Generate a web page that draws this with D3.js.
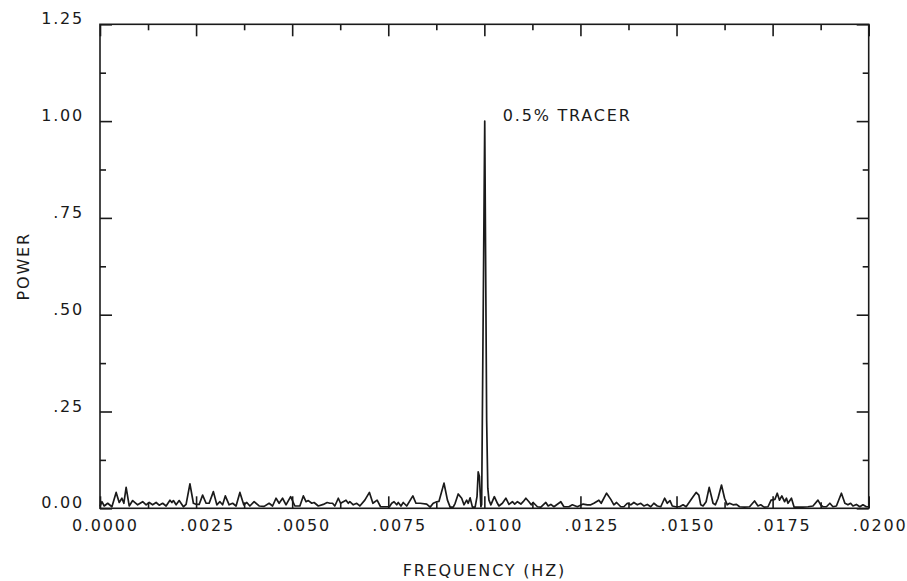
<!DOCTYPE html>
<html>
<head>
<meta charset="utf-8">
<script src="https://cdn.jsdelivr.net/npm/d3@7/dist/d3.min.js"></script>
<style>
  html, body { margin: 0; padding: 0; background: #fff; }
  svg { display: block; }
  text { font-family: "DejaVu Sans", sans-serif; font-size: 16px; fill: #1a1a1a; letter-spacing: 1.8px; }
</style>
</head>
<body>
<svg id="chart" width="907" height="581"></svg>
<script>
// ---- data ----
const freq = [
  0.00000,0.00005,0.00011,0.00020,0.00031,0.00042,0.00050,0.00057,0.00062,0.00068,
  0.00076,0.00085,0.00098,0.00111,0.00120,0.00128,0.00137,0.00146,0.00154,0.00163,
  0.00172,0.00182,0.00187,0.00191,0.00198,0.00206,0.00217,0.00224,0.00234,0.00243,
  0.00251,0.00258,0.00267,0.00276,0.00284,0.00295,0.00304,0.00312,0.00319,0.00326,
  0.00336,0.00345,0.00354,0.00364,0.00374,0.00382,0.00390,0.00401,0.00414,0.00427,
  0.00440,0.00449,0.00458,0.00466,0.00475,0.00484,0.00496,0.00507,0.00520,0.00529,
  0.00536,0.00542,0.00551,0.00557,0.00568,0.00581,0.00591,0.00598,0.00605,0.00611,
  0.00620,0.00626,0.00633,0.00640,0.00646,0.00650,0.00659,0.00668,0.00676,0.00689,
  0.00701,0.00710,0.00721,0.00730,0.00741,0.00753,0.00759,0.00765,0.00772,0.00776,
  0.00783,0.00789,0.00798,0.00814,0.00822,0.00833,0.00850,0.00859,0.00867,0.00876,
  0.00882,0.00895,0.00904,0.00911,0.00919,0.00924,0.00932,0.00941,0.00947,0.00954,
  0.00958,0.00963,0.00969,0.00976,0.00981,0.00984,0.00987,0.00991,0.00993,0.01001,
  0.01006,0.01009,0.01012,0.01017,0.01026,0.01034,0.01038,0.01047,0.01056,0.01064,
  0.01073,0.01079,0.01086,0.01095,0.01101,0.01108,0.01116,0.01122,0.01127,0.01138,
  0.01147,0.01160,0.01166,0.01173,0.01181,0.01199,0.01207,0.01220,0.01229,0.01242,
  0.01257,0.01268,0.01277,0.01285,0.01298,0.01304,0.01318,0.01329,0.01337,0.01344,
  0.01355,0.01363,0.01372,0.01381,0.01389,0.01398,0.01407,0.01415,0.01424,0.01433,
  0.01441,0.01450,0.01459,0.01469,0.01476,0.01483,0.01489,0.01498,0.01508,0.01517,
  0.01525,0.01534,0.01543,0.01551,0.01558,0.01563,0.01569,0.01577,0.01585,0.01591,
  0.01595,0.01601,0.01608,0.01617,0.01625,0.01632,0.01638,0.01647,0.01656,0.01664,
  0.01677,0.01690,0.01703,0.01712,0.01719,0.01728,0.01738,0.01746,0.01756,0.01762,
  0.01768,0.01774,0.01781,0.01786,0.01790,0.01799,0.01806,0.01816,0.01829,0.01842,
  0.01855,0.01868,0.01875,0.01881,0.01890,0.01899,0.01907,0.01916,0.01929,0.01938,
  0.01946,0.01953,0.01959,0.01968,0.01977,0.01985,0.01994,0.02000
];
const power = [
  0.005,0.017,0.006,0.013,0.004,0.041,0.015,0.026,0.013,0.054,
  0.006,0.020,0.009,0.017,0.009,0.015,0.009,0.015,0.008,0.013,
  0.006,0.021,0.015,0.020,0.009,0.020,0.004,0.010,0.063,0.013,
  0.010,0.010,0.034,0.013,0.013,0.043,0.009,0.017,0.009,0.032,
  0.009,0.013,0.006,0.041,0.009,0.015,0.006,0.017,0.006,0.005,
  0.013,0.006,0.026,0.013,0.026,0.009,0.030,0.006,0.006,0.032,
  0.017,0.020,0.013,0.015,0.006,0.010,0.015,0.013,0.013,0.006,
  0.026,0.013,0.017,0.021,0.013,0.017,0.009,0.013,0.006,0.021,
  0.041,0.013,0.021,0.004,0.004,0.004,0.013,0.017,0.009,0.015,
  0.006,0.015,0.006,0.032,0.013,0.013,0.011,0.003,0.013,0.017,
  0.018,0.065,0.021,0.003,0.003,0.013,0.037,0.026,0.009,0.021,
  0.013,0.027,0.003,0.003,0.031,0.094,0.083,0.004,0.010,1.000,
  0.227,0.052,0.021,0.009,0.030,0.013,0.006,0.013,0.026,0.010,
  0.017,0.011,0.017,0.011,0.017,0.026,0.017,0.009,0.015,0.004,
  0.003,0.015,0.006,0.010,0.004,0.017,0.004,0.004,0.009,0.004,
  0.011,0.009,0.009,0.013,0.021,0.013,0.039,0.023,0.009,0.015,
  0.004,0.004,0.013,0.009,0.015,0.009,0.013,0.006,0.010,0.004,
  0.013,0.006,0.004,0.026,0.013,0.020,0.006,0.004,0.004,0.009,
  0.004,0.017,0.030,0.041,0.034,0.009,0.006,0.017,0.054,0.030,
  0.013,0.009,0.026,0.060,0.026,0.009,0.013,0.009,0.010,0.004,
  0.003,0.004,0.019,0.006,0.009,0.003,0.004,0.021,0.023,0.039,
  0.021,0.032,0.017,0.026,0.013,0.026,0.003,0.003,0.003,0.004,
  0.006,0.021,0.009,0.004,0.004,0.013,0.004,0.006,0.039,0.013,
  0.009,0.013,0.006,0.010,0.004,0.009,0.004,0.004
];
const xMajorTicks = [0, 0.0025, 0.005, 0.0075, 0.01, 0.0125, 0.015, 0.0175, 0.02];
const xTickLabels = ["0.0000", ".0025", ".0050", ".0075", ".0100", ".0125", ".0150", ".0175", ".0200"];
const xMinorTicks = [0.00125, 0.00375, 0.00625, 0.00875, 0.01125, 0.01375, 0.01625, 0.01875];
const yMajorTicks = [0, 0.25, 0.5, 0.75, 1.0, 1.25];
const yTickLabels = ["0.00", ".25", ".50", ".75", "1.00", "1.25"];
const yMinorTicks = [0.125, 0.375, 0.625, 0.875, 1.125];
const xTitle = "FREQUENCY (HZ)";
const yTitle = "POWER";
const annotation = { text: "0.5% TRACER", f: 0.01048, p: 1.0 };

// ---- layout ----
const L = 100, R = 868.7, T = 24.3, B = 508.3;
const ink = "#1a1a1a";
const svg = d3.select("#chart");
const x = d3.scaleLinear().domain([0, 0.02]).range([L, R]);
const y = d3.scaleLinear().domain([0, 1.25]).range([B, T]);

function ticks(axisGen, tr, vals, size) {
  const g = svg.append("g").attr("transform", tr)
    .call(axisGen.tickValues(vals).tickSize(size).tickFormat(""));
  g.select(".domain").remove();
  g.selectAll(".tick line").attr("stroke", ink).attr("stroke-width", 1.6);
  return g;
}
// bottom & top (inward)
ticks(d3.axisBottom(x), `translate(0,${B})`, xMajorTicks, -12);
ticks(d3.axisBottom(x), `translate(0,${B})`, xMinorTicks, -6);
ticks(d3.axisTop(x), `translate(0,${T})`, xMajorTicks, -12);
ticks(d3.axisTop(x), `translate(0,${T})`, xMinorTicks, -6);
// left & right (inward)
ticks(d3.axisLeft(y), `translate(${L},0)`, yMajorTicks, -12);
ticks(d3.axisLeft(y), `translate(${L},0)`, yMinorTicks, -6);
ticks(d3.axisRight(y), `translate(${R},0)`, yMajorTicks, -12);
ticks(d3.axisRight(y), `translate(${R},0)`, yMinorTicks, -6);

// frame
svg.append("rect").attr("x", L).attr("y", T).attr("width", R - L).attr("height", B - T)
  .attr("fill", "none").attr("stroke", ink).attr("stroke-width", 1.6);

// tick labels
svg.append("g").selectAll("text").data(xMajorTicks).join("text")
  .attr("x", d => x(d) + 38.8).attr("y", B + 23)
  .attr("text-anchor", "end")
  .text((d, i) => xTickLabels[i]);
svg.append("g").selectAll("text").data(yMajorTicks).join("text")
  .attr("x", 84).attr("y", d => y(d))
  .attr("text-anchor", "end")
  .text((d, i) => yTickLabels[i]);

// titles
svg.append("text").attr("x", (L + R) / 2).attr("y", 576)
  .attr("text-anchor", "middle").text(xTitle);
svg.append("text").attr("transform", `translate(28.5,${(T + B) / 2}) rotate(-90)`)
  .attr("text-anchor", "middle").text(yTitle);

// annotation
svg.append("text").attr("x", x(annotation.f)).attr("y", y(annotation.p))
  .text(annotation.text);

// spectrum
const pts = freq.map((f, i) => [f, power[i]]);
svg.append("path").datum(pts)
  .attr("fill", "none").attr("stroke", ink).attr("stroke-width", 1.7)
  .attr("stroke-linejoin", "round")
  .attr("d", d3.line().x(d => x(d[0])).y(d => y(d[1])));
</script>
</body>
</html>
